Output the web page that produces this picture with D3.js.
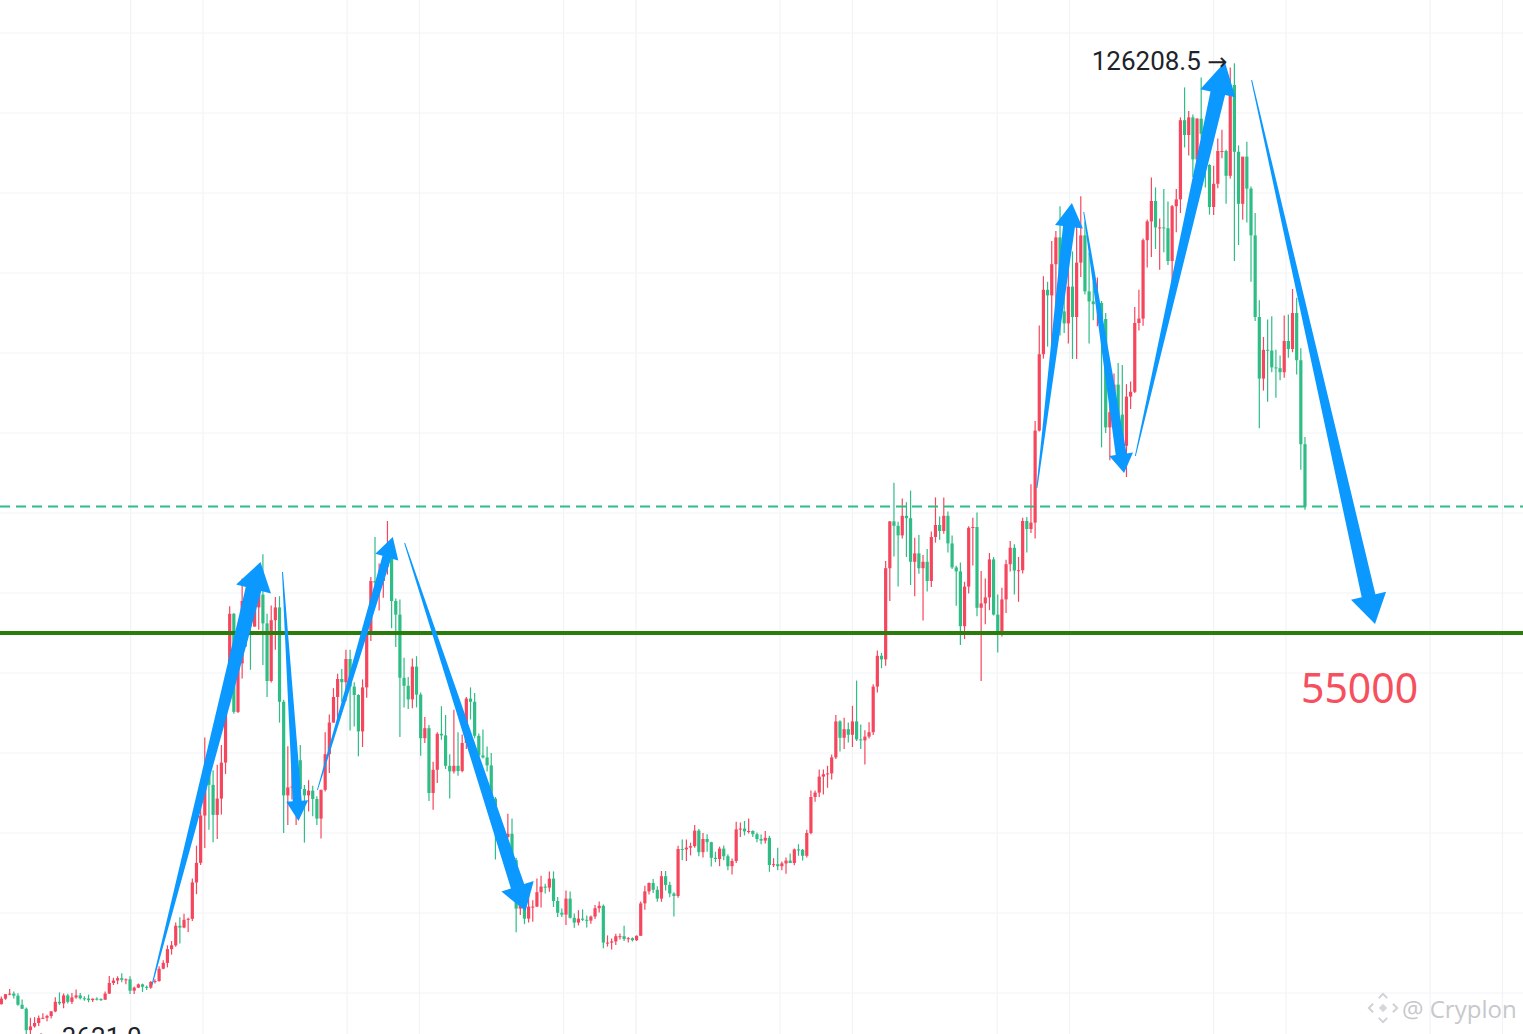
<!DOCTYPE html>
<meta charset="utf-8">
<script src="https://d3js.org/d3.v7.min.js"></script>
<style>
  body { margin: 0; background: #fff; overflow: hidden; }
</style>
<div id="chart"></div>
<script>

// BTCUSDT perpetual, weekly candles (week opens Monday), first week 2020-01-27
var firstWeek = "2020-01-27";
var firstOpen = 8600;

var highs = [
  // 2020
  9560,9870,10500,10200,9960,9190,8180,6900,6980,7200,7460,7290,7750,9460,10070,9950,9900,10000,10430,9990,
  9590,9800,9300,9470,9350,10200,12120,11900,12090,12480,11800,12090,10800,11180,11180,10950,11500,11720,13350,14100,
  15960,16490,18800,19480,19920,19400,24300,28420,34780,
  // 2021
  41950,40100,37850,38530,41000,49700,58350,57500,52640,61800,60600,58400,60200,61300,64850,57400,58450,59500,59600,46650,
  40850,39480,41330,41000,36000,36600,35900,34600,35400,42600,44800,48100,49900,50500,52900,52900,48850,47350,49200,56550,
  62000,67000,63700,64300,69000,66300,59300,59200,51900,49500,51800,52100,
  // 2022
  47550,44500,43500,38900,42600,45850,44750,39850,45400,42600,42300,47000,48200,47500,42450,42950,40800,40000,34500,31300,
  30650,32400,31800,26900,21900,21550,22550,21600,24300,24650,23650,25200,25200,22000,20550,22800,22700,19950,20350,20450,
  19700,19700,21000,21450,21050,17200,16800,17400,17450,18400,17000,16950,
  // 2023
  17200,21450,23400,23800,24250,23350,25250,25250,23900,22600,28400,29200,29200,28800,31000,30500,30000,29850,28900,27650,
  28300,28450,27350,26800,31400,31300,31500,31800,30350,30050,29800,30250,29650,26850,28150,26450,26950,27450,28050,28600,
  28000,30400,35300,35300,37950,37950,38400,39800,44750,44100,44400,43800,
  // 2024
  45900,49050,43550,42850,43850,48600,52800,52500,64000,69000,73780,68900,71800,71350,72800,66900,67250,64750,65500,67700,
  71950,69550,71950,70200,67200,63400,63800,61400,68350,69400,70050,62750,61800,65000,64500,59800,60650,64150,66500,66100,
  64500,69400,69500,73600,81500,93450,99600,98900,104000,105250,108350,99950,102700,
  // 2025
  102700,106000,109600,106450,102500,98850,99450,96500,95000,84100,87450,88750,88500,86100,86450,95750,97900,104300,106700,111950,
  110700,106800,110500,108950,108500,110500,119450,123200,120250,119800,119350,124450,117650,113600,113400,116800,117900,115400,125700,126208.5,
  115950,114000,116400,110800,107500,96600,92000,94200,94600,90400,89700,94700,
  // 2026
  94800,98000,96900,90600,79500
];

var lows = [
  // 2020
  8560,9150,9720,9300,8400,8000,3621,4440,5670,5860,6760,6460,6800,7600,8500,8100,8700,8630,9270,9200,
  9030,8830,8890,9050,9000,9150,9870,11000,11100,11350,11100,9880,9870,10640,10130,10370,10530,11200,11410,12960,
  13200,14800,15790,16200,18100,17620,19000,22350,26000,
  // 2021
  28130,30420,28850,29240,32300,37370,47000,44900,45000,49300,53270,50400,55800,55400,51000,47000,48800,52900,43800,30000,
  31000,34200,31000,34800,28800,32700,32100,31000,29300,35200,37500,43800,44200,46400,46500,42800,43300,39600,40750,46900,
  54000,59500,57800,59400,62300,55600,53250,42000,45700,45500,45600,45700,
  // 2022
  39650,41250,34000,32900,36250,41650,38000,34300,37450,37150,37600,40500,44200,41850,39200,39300,37700,33700,26700,28650,
  28000,29300,26500,17600,19750,18600,18800,18900,20750,20700,22450,22650,20750,19500,19500,18500,19300,18150,18450,19000,
  18200,18650,19250,20050,15600,15800,15450,16000,16700,16500,16300,16450,
  // 2023
  16500,17150,20400,22300,22500,21400,21400,22800,21970,19550,21900,26600,26500,27200,28150,27100,26950,27650,25800,26350,
  25850,26600,25350,24800,26250,29500,29700,29950,29500,28850,28600,28700,25150,25750,25350,25350,24900,26350,25980,27150,
  26550,26950,29850,33900,34500,34800,35650,36700,39250,40200,40500,41300,
  // 2024
  40750,41500,40500,38550,41800,42250,47550,50600,50900,59000,64550,60800,66800,64500,61000,59600,62400,56550,60200,60750,
  66300,66650,67400,65050,63000,58400,53500,54250,59950,63450,57100,49000,56100,57850,57200,52550,54550,57500,62700,59800,
  58900,62450,65050,67500,66800,80200,89300,90800,90500,94150,92200,92500,91200,
  // 2025
  89250,89250,99500,97300,91200,94100,93350,78200,80000,76600,81150,81650,77150,74500,83000,85000,92800,93400,100700,102000,
  103000,100400,102600,101000,98200,105100,107500,115700,114700,112000,112650,116800,110700,107300,107250,110600,114350,108650,111800,101500,
  103500,106650,106300,98900,94000,80600,85300,83900,87600,84400,86600,86900,
  // 2026
  89400,90100,87300,75400,70400
];

var closes = [
  // 2020
  9290,9850,9920,9660,8530,8030,5360,5820,6250,6880,6900,7120,7700,8900,8700,9700,8900,9450,9700,9340,
  9300,9110,9290,9240,9160,9930,11250,11560,11860,11650,11710,10290,10670,11080,10770,10670,11380,11500,13030,13760,
  15480,15960,18400,18180,19150,19270,23820,26270,32180,
  // 2021
  38150,36020,32260,34300,38800,48580,57400,45140,51200,59000,57500,55800,58200,59800,56200,49000,56600,58200,46400,34700,
  35700,35800,39100,35500,34700,35300,34250,31800,35400,39850,43800,47000,49250,48850,51750,48300,47250,42700,48200,54950,
  61500,61300,61500,63300,65500,59000,57300,49400,48400,46700,50800,47300,
  // 2022
  41850,43100,35000,37900,42400,42200,38400,37700,38400,37750,41250,46800,46400,42150,39700,39450,38450,34300,31300,29450,
  29500,29900,26600,20550,21000,19300,20800,20800,22600,23300,23170,24300,21500,20030,19800,21800,19400,18800,19300,19150,
  19050,19550,20600,20900,16300,16300,16450,17100,17100,16750,16850,16600,
  // 2023
  17150,21200,22700,23750,22900,21800,24600,23500,22430,22130,28000,27950,28170,28350,30300,27600,29250,28850,26900,26750,
  28050,27100,25850,26500,30450,30550,30200,30250,29850,29250,29050,29400,26000,26100,25850,26200,26550,26250,27950,27900,
  27150,30000,34500,35050,37050,37350,37450,39450,43950,41900,42980,42280,
  // 2024
  43950,41700,41580,42050,42600,48300,52150,51700,63100,68950,68400,67200,69650,69350,63900,64950,63100,63900,61500,67000,
  68500,67750,69650,66200,63200,62700,55850,60800,68150,68250,58150,58700,59450,64200,57300,54850,59200,63600,65650,62800,
  62850,69000,68000,68800,80300,89850,97900,97200,101100,104450,95200,93700,98300,
  // 2025
  94500,101300,104700,97700,96450,96100,96250,94250,80700,82600,86050,82300,78400,84550,85150,93750,94300,104100,106450,109000,
  105700,105700,105600,101500,108350,109200,119100,117250,119450,114200,119300,117400,113500,108250,111150,115250,115250,112150,123500,115150,
  108650,114550,110550,104700,94500,86800,90400,90300,88200,88100,87600,91500,
  // 2026
  90500,95000,89100,78600,70800
];

// marked extremes
var highDate = "2025-10-06", highLabel = "126208.5";
var lowDate = "2020-03-09", lowLabel = "3621.0";

// horizontal levels
var supportLevel = 55000;
var supportLabel = "55000";
var lastPrice = 70800;

// drawn arrows: tail -> tip, [date, price]
var arrowTails = [
  ["2020-10-07", 11000], ["2021-05-15", 62625], ["2021-07-13", 35375], ["2021-12-07", 66250],
  ["2024-11-07", 73125], ["2025-01-25", 107625], ["2025-04-22", 77125], ["2025-11-04", 124125]
];
var arrowTips = [
  ["2021-04-08", 63875], ["2021-06-11", 31500], ["2021-11-17", 67000], ["2022-06-29", 20250],
  ["2025-01-05", 108750], ["2025-04-03", 75000], ["2025-09-20", 126375], ["2026-05-31", 56125]
];

// grid
var timeGrid = ["2020-09-01","2021-01-01","2021-09-01","2022-01-01","2022-09-01","2023-01-01","2023-09-01",
                "2024-01-01","2024-09-01","2025-01-01","2025-09-01","2026-01-01","2026-09-01","2027-01-01"];
var priceGrid = [0,10000,20000,30000,40000,50000,60000,70000,80000,90000,100000,110000,120000,130000];


var width = 1523, height = 1034;
var upColor = "#f6465d", downColor = "#2ebd85";

var svg = d3.select("#chart")
    .append("svg")
    .attr("width", width)
    .attr("height", height)
    .style("display", "block");

svg.append("rect").attr("width", width).attr("height", height).attr("fill", "#fff");

var parse = d3.utcParse("%Y-%m-%d");

var x = d3.scaleUtc()
    .domain([parse("2021-01-01"), parse("2026-01-01")])
    .range([203, 1286]);

var y = d3.scaleLinear()
    .domain([0, 130000])
    .range([1073, 33]);

// candles
var start = parse(firstWeek);
var candles = closes.map(function(c, i) {
    return {
        date: d3.utcDay.offset(start, 7 * i),
        open: i === 0 ? firstOpen : closes[i - 1],
        high: highs[i],
        low: lows[i],
        close: c
    };
});

// grid lines
var grid = svg.append("g").attr("stroke", "#f2f3f5").attr("stroke-width", 1.2);
grid.selectAll(".hg").data(priceGrid).enter().append("line")
    .attr("x1", 0).attr("x2", width)
    .attr("y1", function(d) { return y(d); })
    .attr("y2", function(d) { return y(d); });
grid.selectAll(".vg").data(timeGrid).enter().append("line")
    .attr("y1", 0).attr("y2", height)
    .attr("x1", function(d) { return x(parse(d)); })
    .attr("x2", function(d) { return x(parse(d)); });

var bw = 3.2;
var cg = svg.append("g");
function col(d) { return d.close >= d.open ? upColor : downColor; }

cg.selectAll(".wick").data(candles).enter().append("line")
    .attr("x1", function(d) { return x(d.date); })
    .attr("x2", function(d) { return x(d.date); })
    .attr("y1", function(d) { return y(d.high); })
    .attr("y2", function(d) { return y(d.low); })
    .attr("stroke", col)
    .attr("stroke-width", 1.2);

cg.selectAll(".body").data(candles).enter().append("rect")
    .attr("x", function(d) { return x(d.date) - bw / 2; })
    .attr("y", function(d) { return y(Math.max(d.open, d.close)); })
    .attr("width", bw)
    .attr("height", function(d) { return Math.max(1, Math.abs(y(d.open) - y(d.close))); })
    .attr("fill", col);

// last price dashed line
svg.append("line")
    .attr("x1", 0).attr("x2", width)
    .attr("y1", y(lastPrice)).attr("y2", y(lastPrice))
    .attr("stroke", downColor)
    .attr("stroke-width", 2)
    .attr("stroke-dasharray", "10,6");

// support level
svg.append("line")
    .attr("x1", 0).attr("x2", width)
    .attr("y1", y(supportLevel)).attr("y2", y(supportLevel))
    .attr("stroke", "#2a7c0c")
    .attr("stroke-width", 4);

// blue arrows (tapered shaft + head)
var shaftW = [16, 9, 9, 14, 12, 11, 15, 14];
var headLen = [28, 20, 21, 26, 24, 19, 32, 29];
var headHalf = [18, 11, 12, 17, 14, 12, 18, 18];

function arrowPath(t, p, w, hl, hw) {
    var dx = p[0] - t[0], dy = p[1] - t[1], len = Math.hypot(dx, dy);
    var ux = dx / len, uy = dy / len, nx = -uy, ny = ux;
    var bx = p[0] - ux * hl, by = p[1] - uy * hl;
    var pts = [
        [t[0] + nx * 0.5, t[1] + ny * 0.5],
        [bx + nx * w / 2, by + ny * w / 2],
        [bx + nx * hw, by + ny * hw],
        p,
        [bx - nx * hw, by - ny * hw],
        [bx - nx * w / 2, by - ny * w / 2],
        [t[0] - nx * 0.5, t[1] - ny * 0.5]
    ];
    return "M" + pts.map(function(q) { return q[0].toFixed(1) + "," + q[1].toFixed(1); }).join("L") + "Z";
}

svg.append("g").selectAll("path").data(arrowTails).enter().append("path")
    .attr("d", function(t, i) {
        var a = [x(parse(t[0])), y(t[1])];
        var b = [x(parse(arrowTips[i][0])), y(arrowTips[i][1])];
        return arrowPath(a, b, shaftW[i], headLen[i], headHalf[i]);
    })
    .attr("fill", "#0c99ff");

// extreme labels
var hi = svg.append("text")
    .attr("x", x(parse(highDate)) - 7)
    .attr("y", y(126208.5) + 7)
    .attr("text-anchor", "end")
    .attr("font-family", "Roboto, 'Liberation Sans', sans-serif")
    .attr("font-size", 26)
    .attr("fill", "#1e2329");
hi.append("tspan").text(highLabel + " ");
hi.append("tspan").attr("font-family", "'DejaVu Sans', sans-serif").attr("font-size", 24).text("\u2192");

var lo = svg.append("text")
    .attr("x", x(parse(lowDate)) + 9)
    .attr("y", y(3621) + 2)
    .attr("font-family", "Roboto, 'Liberation Sans', sans-serif")
    .attr("font-size", 26)
    .attr("fill", "#1e2329");
lo.append("tspan").attr("font-family", "'DejaVu Sans', sans-serif").attr("font-size", 24).text("\u2190");
lo.append("tspan").text(" " + lowLabel);

// support label
svg.append("text")
    .attr("x", x(parse(arrowTips[7][0])) - 74)
    .attr("y", y(supportLevel) + 70)
    .attr("font-family", "'Noto Sans', 'Open Sans', sans-serif")
    .attr("font-size", 41)
    .attr("fill", "#f6505f")
    .text(supportLabel);

// watermark
var wm = svg.append("g").attr("transform", "translate(1383,1008)");
wm.append("g").attr("transform", "rotate(45)")
    .attr("fill", "none").attr("stroke", "#cfd2d5").attr("stroke-width", 2)
    .call(function(g) {
        g.append("rect").attr("x", -3).attr("y", -3).attr("width", 6).attr("height", 6).attr("fill", "#d5d8db").attr("stroke", "none");
        g.append("path").attr("d", "M-10,-4 L-10,-10 L-4,-10 M4,-10 L10,-10 L10,-4 M10,4 L10,10 L4,10 M-4,10 L-10,10 L-10,4");
    });
wm.append("text")
    .attr("x", 19).attr("y", 10)
    .attr("font-family", "'Open Sans', 'Noto Sans', sans-serif")
    .attr("font-size", 24)
    .attr("fill", "#c6c9cc")
    .text("@ Cryplon");

</script>
